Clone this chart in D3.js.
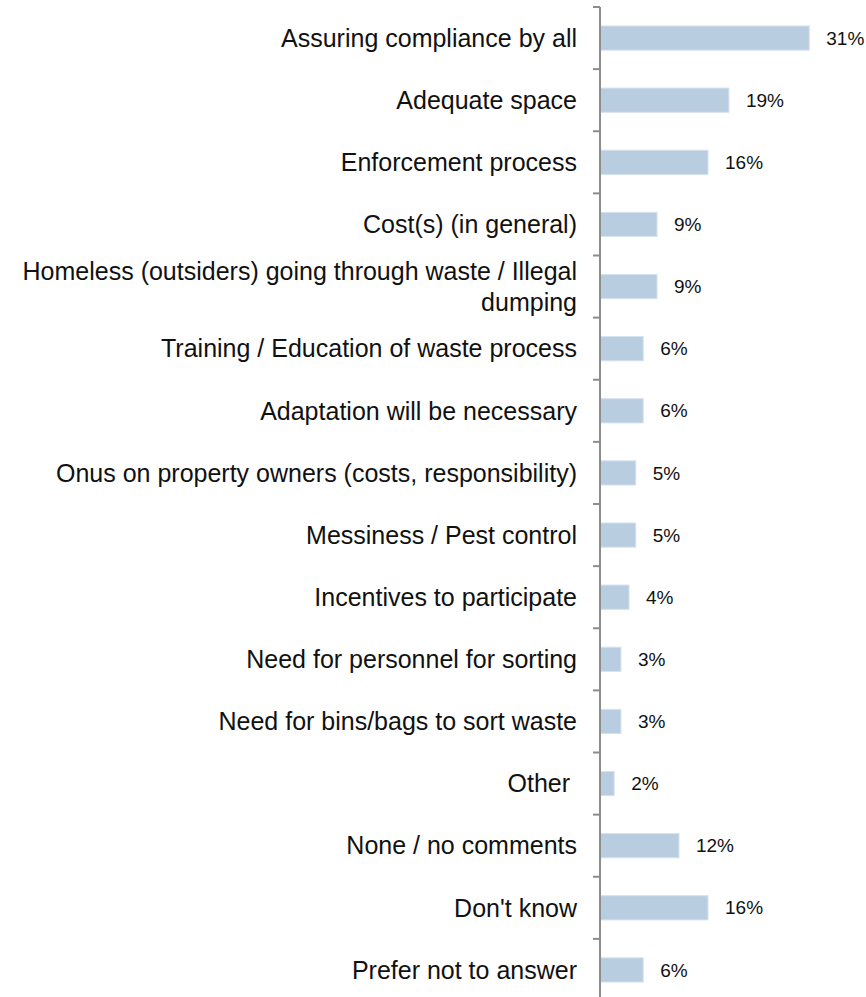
<!DOCTYPE html>
<html>
<head>
<meta charset="utf-8">
<script src="https://cdn.jsdelivr.net/npm/d3@7"></script>
<style>
  html, body { margin: 0; padding: 0; background: #fff; }
  svg { display: block; }
  text, tspan { white-space: pre; }
</style>
</head>
<body>
<svg id="chart" width="866" height="997"></svg>
<script>
const categories = [
  "Assuring compliance by all",
  "Adequate space",
  "Enforcement process",
  "Cost(s) (in general)",
  "Homeless (outsiders) going through waste / Illegal|dumping",
  "Training / Education of waste process",
  "Adaptation will be necessary",
  "Onus on property owners (costs, responsibility)",
  "Messiness / Pest control",
  "Incentives to participate",
  "Need for personnel for sorting",
  "Need for bins/bags to sort waste",
  "Other ",
  "None / no comments",
  "Don't know",
  "Prefer not to answer"
];
const values = [0.31, 0.191, 0.16, 0.0845, 0.0845, 0.064, 0.064, 0.053, 0.053, 0.043, 0.031, 0.031, 0.021, 0.117, 0.16, 0.064];
const valueLabels = ["31%", "19%", "16%", "9%", "9%", "6%", "6%", "5%", "5%", "4%", "3%", "3%", "2%", "12%", "16%", "6%"];

const svg = d3.select("#chart");
const axisX = 600;

const x = d3.scaleLinear().domain([0, 0.4]).range([axisX, axisX + 270]);
const y = d3.scaleBand().domain(categories).range([7, 1001]).paddingInner(0.61).paddingOuter(0.305);

// bars
svg.append("g").selectAll("rect")
  .data(categories)
  .join("rect")
  .attr("x", x(0))
  .attr("y", d => y(d))
  .attr("width", (d, i) => x(values[i]) - x(0))
  .attr("height", y.bandwidth())
  .attr("fill", "#b9cde0")
  .attr("stroke", "#d6e2ee")
  .attr("stroke-width", 1);

// value labels
svg.append("g").selectAll("text")
  .data(categories)
  .join("text")
  .attr("x", (d, i) => x(values[i]) + 17)
  .attr("y", d => y(d) + y.bandwidth() / 2)
  .attr("dy", "0.35em")
  .attr("font-family", "Liberation Sans, Arial, sans-serif")
  .attr("font-size", 19)
  .attr("fill", "#111")
  .text((d, i) => valueLabels[i]);

// category labels
const step = y.step();
const fs = 25;
const lab = svg.append("g").selectAll("text")
  .data(categories)
  .join("text")
  .attr("x", 577)
  .attr("y", d => y(d) + y.bandwidth() / 2)
  .attr("text-anchor", "end")
  .attr("font-family", "Liberation Sans, Arial, sans-serif")
  .attr("font-size", fs)
  .attr("fill", "#111");
lab.each(function(d) {
  const lines = d.split("|");
  const t = d3.select(this);
  const lh = 31;
  const start = -(lines.length - 1) * lh / 2;
  lines.forEach((ln, k) => {
    t.append("tspan")
      .attr("x", 577)
      .attr("dy", k === 0 ? (start + 0.35 * fs) : lh)
      .text(ln);
  });
});

// axis
const axis = d3.axisLeft(y).tickSize(0).tickFormat("");
const ag = svg.append("g").attr("transform", `translate(${axisX},0)`).call(axis);
ag.select(".domain").remove();
ag.append("line").attr("x1", 0).attr("x2", 0).attr("y1", 7).attr("y2", 1001)
  .attr("stroke", "#8c8c8c").attr("stroke-width", 2);
const bounds = d3.range(categories.length + 1).map(i => 7 + i * step);
ag.selectAll("line.tk").data(bounds).join("line").attr("class", "tk")
  .attr("x1", -7).attr("x2", 0).attr("y1", d => d).attr("y2", d => d)
  .attr("stroke", "#8c8c8c").attr("stroke-width", 2);
</script>
</body>
</html>
